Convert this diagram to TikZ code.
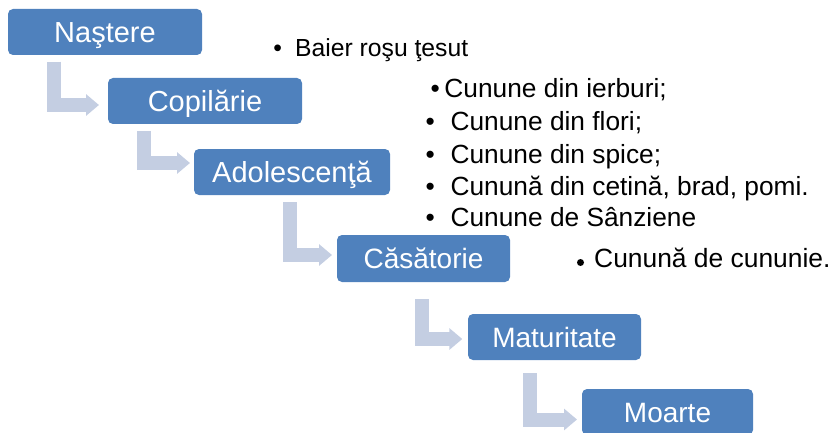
\documentclass[tikz,border=0pt]{standalone}
\usepackage{fontspec}
\setmainfont{Liberation Sans}
\usetikzlibrary{arrows.meta}
\definecolor{boxblue}{RGB}{79,129,189}
\definecolor{connblue}{RGB}{196,206,226}
\begin{document}
\begin{tikzpicture}[x=1pt,y=-1pt,
  stepbox/.style={fill=boxblue, rounded corners=5pt, inner sep=0pt, text=white, text depth=0pt, align=center},
  bigfont/.style={font=\fontsize{29}{29}\selectfont, text height=20.8pt},
  midfont/.style={font=\fontsize{28}{28}\selectfont, text height=20pt},
  conn/.style={draw=connblue, line width=14pt, -{Triangle[width=21pt,length=13pt]}},
  bul/.style={anchor=base west, inner sep=0pt, text=black},
  listfont/.style={font=\fontsize{26.3}{26.3}\selectfont}
]
\useasboundingbox (0,0) rectangle (832,433);

% step boxes
\node[stepbox, bigfont, minimum width=194pt, minimum height=46pt] (n1) at (105,32) {Naştere};
\node[stepbox, bigfont, minimum width=194pt, minimum height=46pt] (n2) at (205,101) {Copilărie};
\node[stepbox, bigfont, minimum width=196pt, minimum height=46pt] (n3) at (292,172) {Adolescenţă};
\node[stepbox, midfont, minimum width=173pt, minimum height=47pt] (n4) at (423.5,258.5) {Căsătorie};
\node[stepbox, midfont, minimum width=173pt, minimum height=46pt] (n5) at (554.5,337) {Maturitate};
\node[stepbox, midfont, minimum width=171pt, minimum height=46pt] (n6) at (667.5,412) {Moarte};

% elbow connectors
\coordinate (c1a) at (53.7,61.7);  \coordinate (c1b) at (99,105);
\coordinate (c2a) at (144.4,131);  \coordinate (c2b) at (190,163);
\coordinate (c3a) at (289.5,202);  \coordinate (c3b) at (332,255);
\coordinate (c4a) at (422.4,299);  \coordinate (c4b) at (462.3,339);
\coordinate (c5a) at (530,373);    \coordinate (c5b) at (577,419.5);
\draw[conn] (c1a) |- (c1b);
\draw[conn] (c2a) |- (c2b);
\draw[conn] (c3a) |- (c3b);
\draw[conn] (c4a) |- (c4b);
\draw[conn] (c5a) |- (c5b);

% bullet texts
\node[bul, font=\fontsize{24.7}{24.7}\selectfont] (t1) at (273.2,56.5) {\makebox[21.8pt][l]{•}Baier roşu ţesut};
\node[bul, listfont] (t2) at (430.4,98) {\makebox[13.9pt][l]{•}Cunune din ierburi;};
\node[bul, listfont] (t3) at (425.4,130.5) {\makebox[25pt][l]{•}Cunune din flori;};
\node[bul, listfont] (t4) at (425.4,163) {\makebox[25pt][l]{•}Cunune din spice;};
\node[bul, listfont] (t5) at (425.4,195) {\makebox[25pt][l]{•}Cunună din cetină, brad, pomi.};
\node[bul, listfont] (t6) at (425.4,226.5) {\makebox[25pt][l]{•}Cunune de Sânziene};
\fill[black] (580.5,262.5) circle (3.5pt);
\node[bul, font=\fontsize{26.4}{26.4}\selectfont] (t7) at (594,267.5) {Cunună de cununie.};
\end{tikzpicture}
\end{document}
